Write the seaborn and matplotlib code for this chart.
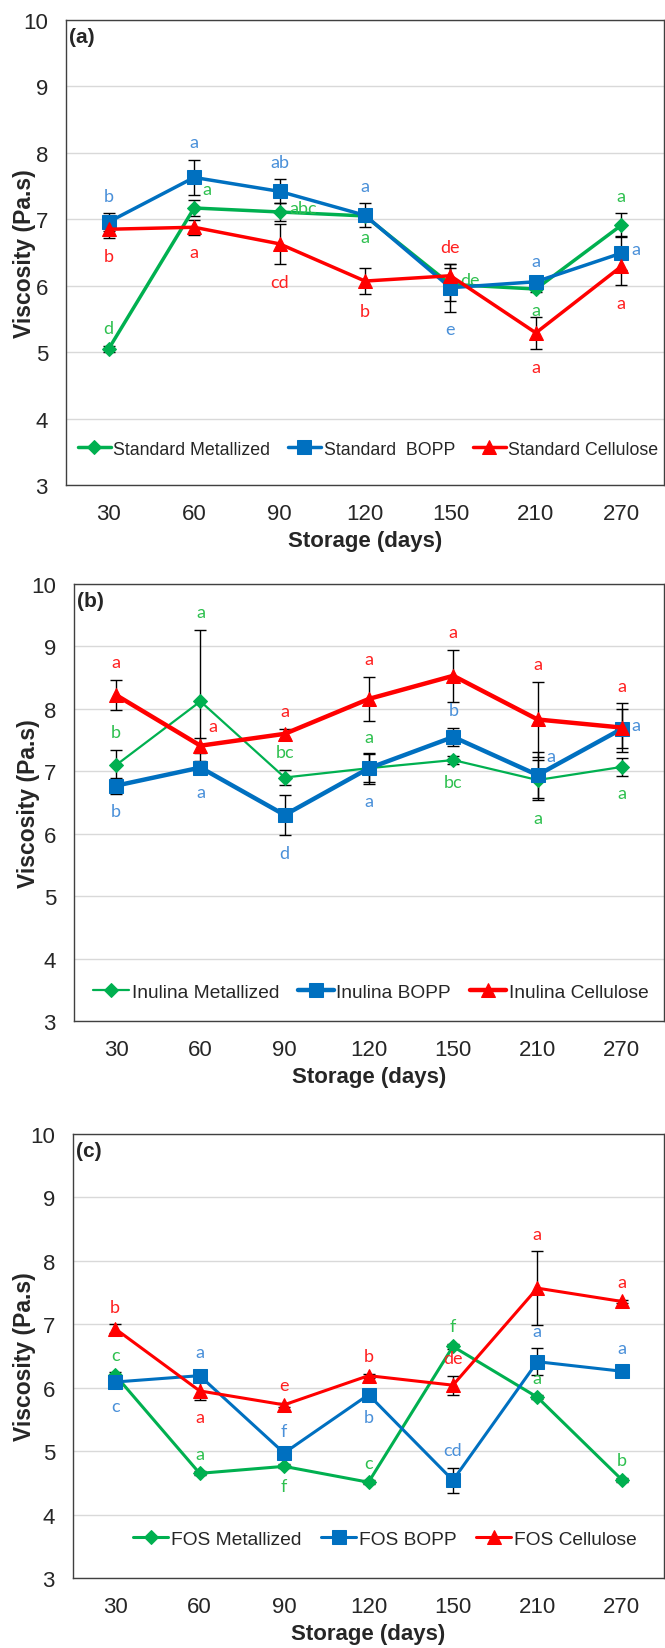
import numpy as np
import pandas as pd
import matplotlib
matplotlib.use("Agg")
from matplotlib import pyplot as plt
import seaborn as sns

days = ["30", "60", "90", "120", "150", "210", "270"]

# (a) Standard
std_names = ["Standard Metallized", "Standard  BOPP", "Standard Cellulose"]
std_met = [5.05, 7.17, 7.11, 7.05, 6.02, 5.95, 6.91]
std_met_err = [0.05, 0.12, 0.14, 0.05, 0.25, 0.05, 0.18]
std_bopp = [6.96, 7.63, 7.42, 7.06, 5.97, 6.06, 6.49]
std_bopp_err = [0.13, 0.27, 0.18, 0.18, 0.36, 0.05, 0.26]
std_cel = [6.85, 6.88, 6.63, 6.07, 6.15, 5.29, 6.29]
std_cel_err = [0.13, 0.11, 0.30, 0.19, 0.17, 0.24, 0.28]
std_met_let = ["d", "a", "abc", "a", "de", "a", "a"]
std_bopp_let = ["b", "a", "ab", "a", "e", "a", "a"]
std_cel_let = ["b", "a", "cd", "b", "de", "a", "a"]

# (b) Inulina
inu_names = ["Inulina Metallized", "Inulina BOPP", "Inulina Cellulose"]
inu_met = [7.10, 8.12, 6.90, 7.05, 7.18, 6.86, 7.07]
inu_met_err = [0.24, 1.15, 0.12, 0.22, 0.06, 0.32, 0.14]
inu_bopp = [6.77, 7.06, 6.30, 7.05, 7.55, 6.94, 7.68]
inu_bopp_err = [0.13, 0.10, 0.32, 0.25, 0.15, 0.37, 0.31]
inu_cel = [8.22, 7.41, 7.60, 8.16, 8.53, 7.83, 7.70]
inu_cel_err = [0.24, 0.12, 0.08, 0.35, 0.42, 0.60, 0.39]
inu_met_let = ["b", "a", "bc", "a", "bc", "a", "a"]
inu_bopp_let = ["b", "a", "d", "a", "b", "a", "a"]
inu_cel_let = ["a", "a", "a", "a", "a", "a", "a"]

# (c) FOS
fos_names = ["FOS Metallized", "FOS BOPP", "FOS Cellulose"]
fos_met = [6.20, 4.65, 4.76, 4.51, 6.65, 5.85, 4.55]
fos_met_err = [0.04, 0.03, 0.03, 0.03, 0.04, 0.03, 0.03]
fos_bopp = [6.09, 6.19, 4.97, 5.89, 4.54, 6.41, 6.26]
fos_bopp_err = [0.10, 0.09, 0.07, 0.08, 0.20, 0.21, 0.09]
fos_cel = [6.93, 5.95, 5.73, 6.19, 6.04, 7.57, 7.36]
fos_cel_err = [0.07, 0.14, 0.03, 0.03, 0.15, 0.58, 0.03]
fos_met_let = ["c", "a", "f", "c", "f", "a", "b"]
fos_bopp_let = ["c", "a", "f", "b", "cd", "a", "a"]
fos_cel_let = ["b", "a", "e", "b", "de", "a", "a"]

# where each letter sits: u above, d below, r right, ur upper right
std_met_pos = ["u", "ur", "r", "d", "r", "d", "u"]
std_bopp_pos = ["u", "u", "u", "u", "d", "u", "r"]
std_cel_pos = ["d", "d", "d", "d", "u", "d", "d"]
inu_met_pos = ["u", "u", "u", "u", "d", "d", "d"]
inu_bopp_pos = ["d", "d", "d", "d", "u", "ur", "r"]
inu_cel_pos = ["u", "ur", "u", "u", "u", "u", "u"]
fos_met_pos = ["u", "u", "d", "u", "u", "u", "u"]
fos_bopp_pos = ["d", "u", "u", "d", "u", "u", "u"]
fos_cel_pos = ["u", "d", "u", "u", "u", "u", "u"]

GREEN, BLUE, RED = "#00B050", "#0070C0", "#FF0000"
LGREEN, LBLUE, LRED = "#2EC04F", "#4A90D9", "#FF2020"

sns.set_style("white")
plt.rcParams["font.family"] = ["Liberation Sans", "DejaVu Sans"]


def put_letters(ax, vals, errs, lets, pos, color):
    for i, (v, e, l, p) in enumerate(zip(vals, errs, lets, pos)):
        kw = dict(textcoords="offset points", color=color, fontsize=13,
                  family=["Lato", "DejaVu Sans"])
        if p == "u":
            ax.annotate(l, (i, v + e), xytext=(0, 7), ha="center", va="bottom", **kw)
        elif p == "d":
            ax.annotate(l, (i, v - e), xytext=(0, -7), ha="center", va="top", **kw)
        elif p == "r":
            ax.annotate(l, (i, v), xytext=(7, 3), ha="left", va="center", **kw)
        else:
            ax.annotate(l, (i, v), xytext=(6, 14), ha="left", va="center", **kw)


def panel(ax, tag, names, vals, errs, lets, pos, lws, leg_fs, leg_xy, ylab_x):
    x = np.arange(len(days))
    styles = [("D", 7, GREEN, LGREEN), ("s", 10, BLUE, LBLUE), ("^", 10, RED, LRED)]
    for k in range(3):
        m, ms, c, lc = styles[k]
        df = pd.DataFrame({"x": x, "y": vals[k]})
        sns.lineplot(data=df, x="x", y="y", ax=ax, color=c, marker=m, markersize=ms,
                     markeredgecolor=c, linewidth=lws[k], label=names[k], zorder=3 + k)
        ax.errorbar(x, vals[k], yerr=errs[k], fmt="none", ecolor="black",
                    elinewidth=1, capsize=4.5, capthick=1, zorder=2)
        put_letters(ax, vals[k], errs[k], lets[k], pos[k], lc)

    ax.set_xlim(-0.5, 6.5)
    ax.set_ylim(3, 10)
    ax.set_yticks(range(3, 11))
    ax.set_xticks(np.arange(-0.5, 7, 1))
    ax.set_xticklabels([])
    ax.set_xticks(x, minor=True)
    ax.set_xticklabels(days, minor=True)
    ax.tick_params(axis="x", which="major", length=7, direction="out", color="#404040", width=1)
    ax.tick_params(axis="x", which="minor", length=0, pad=13, labelsize=16)
    ax.tick_params(axis="y", length=5, direction="out", color="#404040", labelsize=16, pad=8)
    ax.yaxis.grid(True, color="#d9d9d9", lw=1)
    ax.set_axisbelow(True)
    for s in ax.spines.values():
        s.set_color("#404040")
        s.set_linewidth(1)
    ax.set_xlabel("Storage (days)", fontsize=16, fontweight="bold")
    ax.set_ylabel("Viscosity (Pa.s)", fontsize=16.5, fontweight="bold")
    ax.yaxis.set_label_coords(ylab_x, 0.5)
    ax.text(0.005, 0.985, tag, transform=ax.transAxes, ha="left", va="top",
            fontsize=15, fontweight="bold")
    ax.legend(loc="center", bbox_to_anchor=leg_xy, ncol=3, frameon=False,
              fontsize=leg_fs, handlelength=1.85, handletextpad=0.15,
              columnspacing=1.0, borderaxespad=0, numpoints=1)


fig = plt.figure(figsize=(6.65, 16.49), dpi=100)
ax_a = fig.add_axes([66 / 665, 1 - 486 / 1649, 598 / 665, 465 / 1649])
ax_b = fig.add_axes([74 / 665, 1 - 1022 / 1649, 590 / 665, 437 / 1649])
ax_c = fig.add_axes([73 / 665, 1 - 1579 / 1649, 591 / 665, 444 / 1649])

panel(ax_a, "(a)", std_names, [std_met, std_bopp, std_cel],
      [std_met_err, std_bopp_err, std_cel_err],
      [std_met_let, std_bopp_let, std_cel_let],
      [std_met_pos, std_bopp_pos, std_cel_pos],
      [2.5, 2.5, 2.5], 12.8, (0.505, 0.077), -0.05)
panel(ax_b, "(b)", inu_names, [inu_met, inu_bopp, inu_cel],
      [inu_met_err, inu_bopp_err, inu_cel_err],
      [inu_met_let, inu_bopp_let, inu_cel_let],
      [inu_met_pos, inu_bopp_pos, inu_cel_pos],
      [1.6, 3.2, 3.2], 13.8, (0.503, 0.066), -0.058)
panel(ax_c, "(c)", fos_names, [fos_met, fos_bopp, fos_cel],
      [fos_met_err, fos_bopp_err, fos_cel_err],
      [fos_met_let, fos_bopp_let, fos_cel_let],
      [fos_met_pos, fos_bopp_pos, fos_cel_pos],
      [2.2, 2.2, 2.2], 13.8, (0.528, 0.088), -0.062)

fig.savefig("out.png", dpi=100)
